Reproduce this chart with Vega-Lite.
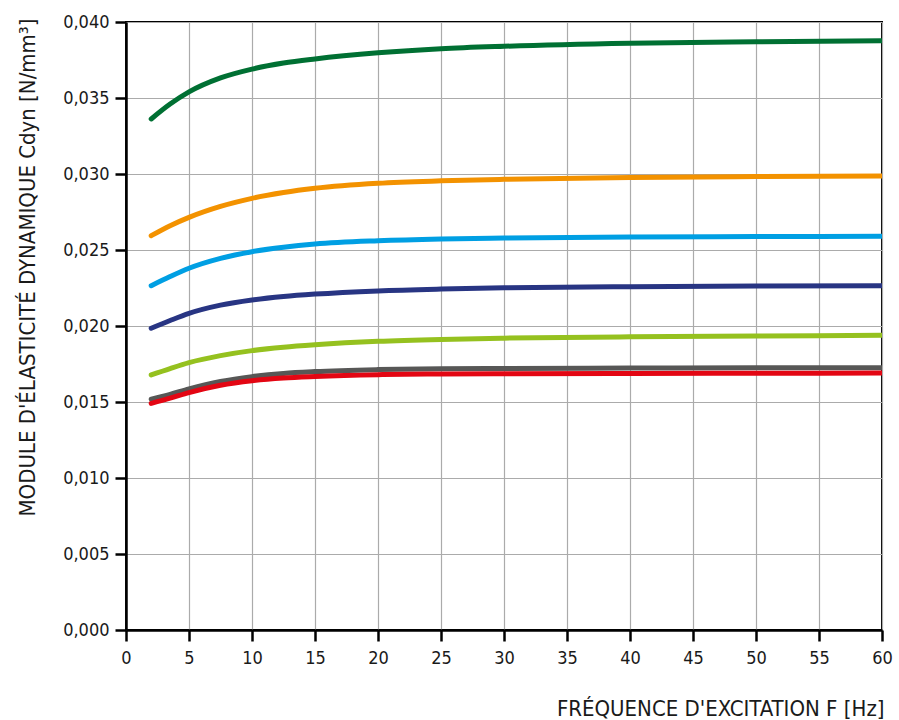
{
  "$schema": "https://vega.github.io/schema/vega-lite/v6.json",
  "width": 756,
  "height": 608,
  "autosize": {"type": "none"},
  "padding": {"left": 126, "top": 22, "right": 17, "bottom": 90},
  "background": "white",
  "config": {
    "font": "DejaVu Sans Condensed, Roboto, sans-serif",
    "view": {"stroke": "black", "strokeWidth": 2},
    "axis": {
      "domainColor": "black", "domainWidth": 2.5,
      "tickColor": "black", "tickWidth": 2.5, "tickSize": 11,
      "gridColor": "#ababab", "gridWidth": 1.2,
      "labelFont": "DejaVu Sans Condensed, Roboto, sans-serif", "labelFontSize": 18, "labelColor": "#1a1a1a",
      "titleFont": "DejaVu Sans Condensed, Roboto, sans-serif", "titleFontSize": 22, "titleFontWeight": "normal", "titleColor": "#1a1a1a"
    }
  },
  "data": {"values": [
    {"f": 2, "A": 0.03362, "B": 0.02594, "C": 0.02265, "D": 0.01985, "E": 0.01678, "F": 0.01518, "G": 0.01491},
    {"f": 3.5, "A": 0.03460, "B": 0.02660, "C": 0.02325, "D": 0.02036, "E": 0.01720, "F": 0.01550, "G": 0.01525},
    {"f": 5, "A": 0.03540, "B": 0.02715, "C": 0.02380, "D": 0.02083, "E": 0.01759, "F": 0.01586, "G": 0.01562},
    {"f": 7.5, "A": 0.03632, "B": 0.02787, "C": 0.02445, "D": 0.02137, "E": 0.01805, "F": 0.01635, "G": 0.01610},
    {"f": 10, "A": 0.03690, "B": 0.02840, "C": 0.02489, "D": 0.02171, "E": 0.01838, "F": 0.01667, "G": 0.01640},
    {"f": 12.5, "A": 0.03730, "B": 0.02878, "C": 0.02518, "D": 0.02194, "E": 0.01860, "F": 0.01688, "G": 0.01658},
    {"f": 15, "A": 0.03757, "B": 0.02906, "C": 0.02539, "D": 0.02210, "E": 0.01876, "F": 0.01700, "G": 0.01668},
    {"f": 20, "A": 0.03797, "B": 0.02939, "C": 0.02561, "D": 0.02231, "E": 0.01899, "F": 0.01713, "G": 0.01680},
    {"f": 25, "A": 0.03824, "B": 0.02955, "C": 0.02573, "D": 0.02243, "E": 0.01912, "F": 0.01719, "G": 0.01684},
    {"f": 30, "A": 0.03840, "B": 0.02965, "C": 0.02579, "D": 0.02251, "E": 0.01920, "F": 0.01721, "G": 0.01686},
    {"f": 40, "A": 0.03860, "B": 0.02977, "C": 0.02586, "D": 0.02259, "E": 0.01929, "F": 0.01723, "G": 0.01688},
    {"f": 50, "A": 0.03870, "B": 0.02983, "C": 0.02588, "D": 0.02263, "E": 0.01934, "F": 0.01725, "G": 0.01689},
    {"f": 60, "A": 0.03877, "B": 0.02987, "C": 0.02590, "D": 0.02265, "E": 0.01939, "F": 0.01726, "G": 0.01690}
  ]},
  "transform": [{"fold": ["A", "B", "C", "D", "E", "F", "G"], "as": ["serie", "c"]}],
  "mark": {"type": "line", "interpolate": "monotone", "strokeWidth": 5, "strokeCap": "round", "clip": true},
  "encoding": {
    "x": {
      "field": "f", "type": "quantitative",
      "scale": {"domain": [0, 60], "nice": false},
      "axis": {
        "values": [0, 5, 10, 15, 20, 25, 30, 35, 40, 45, 50, 55, 60],
        "title": "FRÉQUENCE D'EXCITATION F [Hz]",
        "titleAnchor": "end", "titleAlign": "right", "titleX": 758, "titleY": 85, "titleBaseline": "alphabetic",
        "labelPadding": 8, "labelFlush": false
      }
    },
    "y": {
      "field": "c", "type": "quantitative",
      "scale": {"domain": [0, 0.04], "nice": false},
      "axis": {
        "values": [0, 0.005, 0.01, 0.015, 0.02, 0.025, 0.03, 0.035, 0.04],
        "labelExpr": "replace(format(datum.value, '.3f'), '.', ',')",
        "title": "MODULE D'ÉLASTICITÉ DYNAMIQUE Cdyn [N/mm³]",
        "titleAngle": -90, "titleAlign": "center", "titleBaseline": "middle",
        "titleX": -99, "titleY": 245,
        "labelPadding": 6, "labelFlush": false
      }
    },
    "color": {
      "field": "serie", "type": "nominal",
      "scale": {"domain": ["A", "B", "C", "D", "E", "F", "G"],
                "range": ["#007033", "#F39200", "#009FE3", "#283583", "#95C11F", "#575756", "#E30613"]},
      "legend": null
    }
  }
}
